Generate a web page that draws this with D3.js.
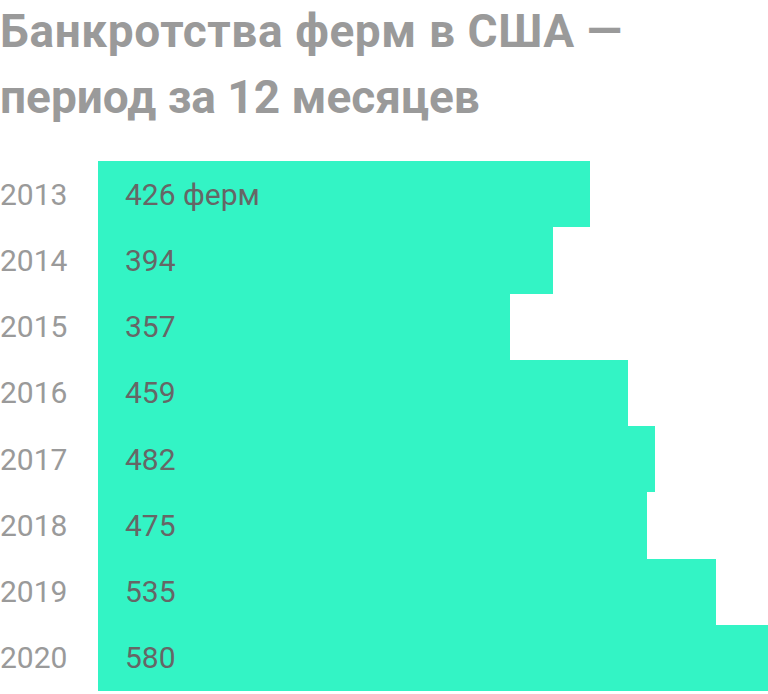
<!DOCTYPE html>
<html>
<head>
<meta charset="utf-8">
<script src="https://cdn.jsdelivr.net/npm/d3@7"></script>
<style>
  body { margin: 0; background: #fff; }
  svg { display: block; font-family: Roboto, sans-serif; }
</style>
</head>
<body>
<div class="chart"></div>
<script>
// data
const years = ["2013", "2014", "2015", "2016", "2017", "2018", "2019", "2020"];
const bankruptcies = [426, 394, 357, 459, 482, 475, 535, 580];
const titleLines = ["Банкротства ферм в США —", "период за 12 месяцев"];

const width = 768, height = 694;
let margin = { top: 161, right: 0, bottom: 3, left: 98 };

const svg = d3.select(".chart")
    .append("svg")
    .attr("width", width)
    .attr("height", height);

// title
svg.append("g")
    .selectAll("text")
    .data(titleLines)
    .join("text")
    .attr("x", 0)
    .attr("y", (d, i) => 47 + i * 66)
    .attr("fill", "#9a9a9a")
    .attr("font-size", 46)
    .attr("font-weight", 700)
    .attr("letter-spacing", (d, i) => i === 0 ? 0.6 : 0)
    .text(d => d);

let xScale = d3.scaleLinear()
    .domain([0, 580])
    .range([margin.left, width - margin.right]);

let yScale = d3.scaleBand()
    .domain(years)
    .range([margin.top, height - margin.bottom])
    .padding(0);

const rows = years.map((y, i) => ({ year: y, value: bankruptcies[i] }));

svg.append("g")
    .selectAll("rect")
    .data(rows)
    .join("rect")
    .attr("x", xScale(0))
    .attr("y", d => yScale(d.year))
    .attr("width", d => xScale(d.value) - xScale(0))
    .attr("height", yScale.bandwidth())
    .attr("fill", "#33f4c5")
    .attr("shape-rendering", "crispEdges");

// year axis, drawn with d3 then stripped of lines
const yAxis = d3.axisLeft(yScale).tickSize(0).tickPadding(0);
const ya = svg.append("g")
    .attr("class", "axis y-axis")
    .call(yAxis);
ya.select(".domain").remove();
ya.selectAll("text")
    .attr("text-anchor", "start")
    .attr("x", 0)
    .attr("dy", "0.35em")
    .attr("fill", "#9a9a9a")
    .attr("font-size", 30)
    .attr("font-family", "Roboto, sans-serif");

// value labels
svg.append("g")
    .selectAll("text")
    .data(rows)
    .join("text")
    .attr("x", 125)
    .attr("y", d => yScale(d.year) + yScale.bandwidth() / 2)
    .attr("dy", "0.35em")
    .attr("fill", "#666")
    .attr("font-size", 30)
    .text((d, i) => i === 0 ? d.value + " ферм" : d.value);
</script>
</body>
</html>
